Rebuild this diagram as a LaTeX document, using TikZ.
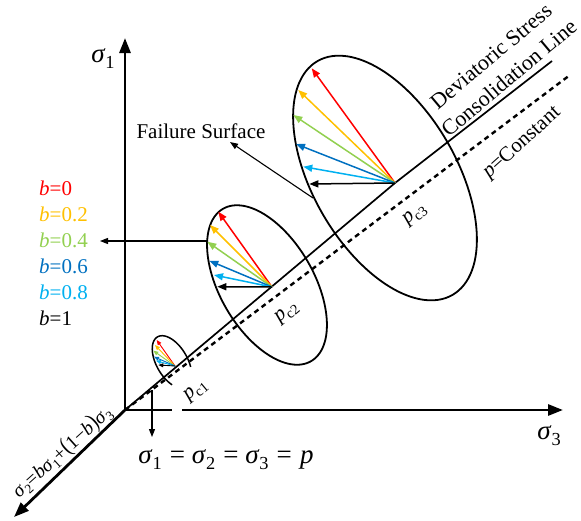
\documentclass[tikz,border=0pt]{standalone}
\usepackage{fontspec}
\setmainfont{Liberation Serif}
\usepackage{graphicx}
\usetikzlibrary{arrows.meta}
\definecolor{cRed}{HTML}{FF0000}
\definecolor{cOrange}{HTML}{FFC000}
\definecolor{cGreen}{HTML}{92D050}
\definecolor{cBlue}{HTML}{0070C0}
\definecolor{cLight}{HTML}{00B0F0}
\newcommand\sub[1]{\raisebox{-0.22em}{\scalebox{0.68}{#1}}}
\newcommand\sg{\textit{σ}}
\begin{document}
\begin{tikzpicture}[x=1pt,y=-1pt,
  txt/.style={font=\fontsize{21}{25}\selectfont, inner sep=0pt},
  big/.style={font=\fontsize{27}{30}\selectfont, inner sep=0pt},
  axis/.style={line width=2.8pt, -{Triangle[length=15pt,width=11pt]}},
  ell/.style={line width=1.8pt},
  carrow/.style={line width=1.5pt, -{Triangle[length=9pt,width=7pt]}},
  sarrow/.style={line width=0.9pt, -{Triangle[length=5pt,width=4pt]}},
  pointer/.style={line width=1.1pt, -{Triangle[length=8pt,width=6pt]}},
]
\useasboundingbox (0,0) rectangle (581,520);
% key points
\coordinate (O) at (125,410);
\coordinate (s1end) at (125,38);
\coordinate (s3end) at (563,410);
\coordinate (gapL) at (172,410);
\coordinate (gapR) at (182,410);
\coordinate (s2end) at (14,517);
\coordinate (P1) at (175,366);
\coordinate (P2) at (272,287);
\coordinate (P3) at (395,183);
\coordinate (Lend) at (552,61);
\coordinate (Dend) at (570,75);
% axes
\draw[line width=2.8pt] (O) -- (gapL);
\draw[axis] (gapR) -- (s3end);
\draw[axis] (O) -- (s1end);
\draw[axis] (O) -- (s2end);
% consolidation and constant-p lines
\draw[line width=1.7pt] (O) -- (P3) -- (Lend);
\draw[line width=2.4pt, dash pattern=on 5pt off 4pt] (O) -- (Dend);
% ellipses
\draw[ell] plot[variable=\t, domain=0:360, samples=121, smooth]
  ({385 + 135*cos(\t)*cos(60) - 72*sin(\t)*sin(60)}, {178 + 135*cos(\t)*sin(60) + 72*sin(\t)*cos(60)});
\draw[ell] plot[variable=\t, domain=0:360, samples=121, smooth]
  ({267 + 88*cos(\t)*cos(60) - 47*sin(\t)*sin(60)}, {285 + 88*cos(\t)*sin(60) + 47*sin(\t)*cos(60)});
\draw[line width=1.5pt] plot[variable=\t, domain=47:298, samples=80, smooth]
  ({172 + 29*cos(\t)*cos(60) - 15.5*sin(\t)*sin(60)}, {362 + 29*cos(\t)*sin(60) + 15.5*sin(\t)*cos(60)});
% stress path arrows
\foreach \c/\x/\y [count=\i] in {cRed/311.7/68.3, cOrange/298.3/90, cGreen/293.3/115, cBlue/296/144, cLight/303.3/166.7, black/309.3/184}{
  \coordinate (T3\i) at (\x,\y);
  \draw[carrow, draw=\c, fill=\c] (P3) -- (T3\i);
}
\foreach \c/\x/\y [count=\i] in {cRed/218.3/211.7, cOrange/210/225, cGreen/207.3/241.7, cBlue/209.3/260.7, cLight/214/275, black/217.3/286.7}{
  \coordinate (T2\i) at (\x,\y);
  \draw[carrow, draw=\c, fill=\c] (P2) -- (T2\i);
}
\foreach \c/\x/\y [count=\i] in {cRed/156.7/340, cOrange/155/345, cGreen/153.3/350.7, cBlue/154/356.7, cLight/156/360.7, black/158.3/365}{
  \coordinate (T1\i) at (\x,\y);
  \draw[sarrow, draw=\c, fill=\c] (P1) -- (T1\i);
}
% pointers
\coordinate (fsFrom) at (313,198);
\coordinate (fsTip) at (230,142);
\draw[pointer] (fsFrom) -- (fsTip);
\coordinate (bFrom) at (207,241);
\coordinate (bTip) at (100,241);
\draw[pointer] (bFrom) -- (bTip);
\coordinate (eqFrom) at (152,390);
\coordinate (eqTip) at (152,437);
\draw[pointer] (eqFrom) -- (eqTip);
% labels
\node[big] (s1lab) at (103,59) {\sg\sub{1}};
\node[big] (s3lab) at (549,436) {\sg\sub{3}};
\node[big] (eq) at (226,460)
  {\sg\sub{1}\hspace{0.3em}=\hspace{0.25em}\sg\sub{2}\hspace{0.3em}=\hspace{0.25em}\sg\sub{3}\hspace{0.3em}=\hspace{0.3em}\textit{p}};
\node[txt, font=\fontsize{19.5}{23}\selectfont, rotate=42] (s2lab) at (62,452)
  {\sg\sub{2}=\textit{b}\sg\sub{1}+\scalebox{1}[1.25]{(}1−\textit{b}\scalebox{1}[1.25]{)}\sg\sub{3}};
\node[txt] (fs) at (201,131) {Failure Surface};
\node[txt, font=\fontsize{22}{28}\selectfont, rotate=40, align=center] (dev) at (500,67)
  {Deviatoric Stress\\Consolidation Line};
\node[txt, rotate=42] (pcon) at (522,143) {\textit{p}=Constant};
\node[txt, rotate=40] (pc3) at (415,215) {\textit{p}\sub{c3}};
\node[txt, rotate=40] (pc2) at (287,313) {\textit{p}\sub{c2}};
\node[txt, rotate=40] (pc1) at (196,391) {\textit{p}\sub{c1}};
\node[txt, anchor=west, text=cRed] (b0) at (39,188) {\textit{b}=0};
\node[txt, anchor=west, text=cOrange] (b2) at (39,214) {\textit{b}=0.2};
\node[txt, anchor=west, text=cGreen] (b4) at (39,240) {\textit{b}=0.4};
\node[txt, anchor=west, text=cBlue] (b6) at (39,266) {\textit{b}=0.6};
\node[txt, anchor=west, text=cLight] (b8) at (39,292) {\textit{b}=0.8};
\node[txt, anchor=west, text=black] (b10) at (39,318) {\textit{b}=1};
\end{tikzpicture}
\end{document}
